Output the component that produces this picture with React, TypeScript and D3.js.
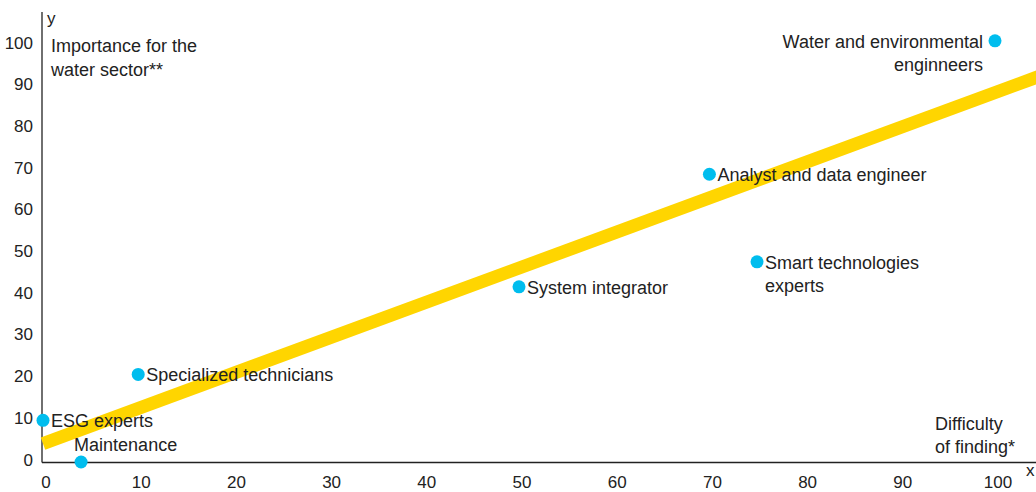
import React from "react";
import * as d3 from "d3";

const W = 1036;
const H = 492;

const roles = [
  "Water and environmental|enginneers",
  "Analyst and data engineer",
  "Smart technologies|experts",
  "System integrator",
  "Specialized technicians",
  "ESG experts",
  "Maintenance",
];
const difficulty = [100, 70, 75, 50, 10, 0, 4];
const importance = [101, 69, 48, 42, 21, 10, 0];
const labelPlacement = ["left", "right", "right", "right", "right", "right", "above"];

const xTicks = [0, 10, 20, 30, 40, 50, 60, 70, 80, 90, 100];
const yTicks = [0, 10, 20, 30, 40, 50, 60, 70, 80, 90, 100];

const FONT = "'Liberation Sans', Arial, sans-serif";
const TEXT = "#222222";
const DOT = "#00BDEE";
const TREND = "#FFD500";

function regression(xs: number[], ys: number[]) {
  const mx = d3.mean(xs)!;
  const my = d3.mean(ys)!;
  let sxy = 0;
  let sxx = 0;
  xs.forEach((x, i) => {
    sxy += (x - mx) * (ys[i] - my);
    sxx += (x - mx) * (x - mx);
  });
  const slope = sxy / sxx;
  return { slope, intercept: my - slope * mx };
}

export default function App() {
  const x = d3.scaleLinear().domain([0, 100]).range([43, 995]);
  const y = d3.scaleLinear().domain([0, 100]).range([462, 45]);
  const { slope, intercept } = regression(difficulty, importance);
  const trendEnd = x.invert(W + 20);
  const trend = d3.line<number>()
    .x((d) => x(d))
    .y((d) => y(intercept + slope * d))([0, trendEnd]);

  return (
    <div style={{ position: "absolute", left: 0, top: 0 }}>
      <svg width={W} height={H} style={{ display: "block" }} fontFamily={FONT}>
        <rect width={W} height={H} fill="#fff" />
        {/* axes */}
        <line x1={42} x2={42} y1={12} y2={462.5} stroke={TEXT} strokeWidth={1.3} />
        <line x1={42} x2={W} y1={462.5} y2={462.5} stroke={TEXT} strokeWidth={1.3} />
        <text x={47} y={24} fontSize={17} fill={TEXT}>y</text>
        <text x={1026} y={476} fontSize={17} fill={TEXT}>x</text>

        {yTicks.map((t) => (
          <text key={t} x={33} y={y(t) - 2} fontSize={17} fill={TEXT} textAnchor="end" dominantBaseline="central">
            {t}
          </text>
        ))}
        {xTicks.map((t) => (
          <text key={t} x={x(t) + 3} y={482} fontSize={17} fill={TEXT} textAnchor="middle" dominantBaseline="central">
            {t}
          </text>
        ))}

        {/* axis titles */}
        <text fontSize={18} fill={TEXT} dominantBaseline="central">
          <tspan x={51} y={46}>Importance for the</tspan>
          <tspan x={51} y={70}>water sector**</tspan>
        </text>
        <text fontSize={18} fill={TEXT} dominantBaseline="central">
          <tspan x={935} y={424}>Difficulty</tspan>
          <tspan x={935} y={447}>of finding*</tspan>
        </text>

        {/* trend line */}
        <path d={trend ?? ""} stroke={TREND} strokeWidth={13} fill="none" />

        {/* points and labels */}
        {roles.map((r, i) => {
          const cx = x(difficulty[i]);
          const cy = y(importance[i]);
          const lines = r.split("|");
          const place = labelPlacement[i];
          let tx = cx + 8;
          let anchor = "start";
          let ty = cy + 1;
          if (place === "left") {
            tx = cx - 12;
            anchor = "end";
          } else if (place === "above") {
            tx = cx - 7;
            ty = cy - 17;
          }
          return (
            <g key={r}>
              <circle cx={cx} cy={cy} r={6.5} fill={DOT} />
              <text fontSize={18} fill={TEXT} textAnchor={anchor} dominantBaseline="central">
                {lines.map((l, j) => (
                  <tspan key={j} x={tx} y={ty + j * 23}>{l}</tspan>
                ))}
              </text>
            </g>
          );
        })}
      </svg>
    </div>
  );
}
